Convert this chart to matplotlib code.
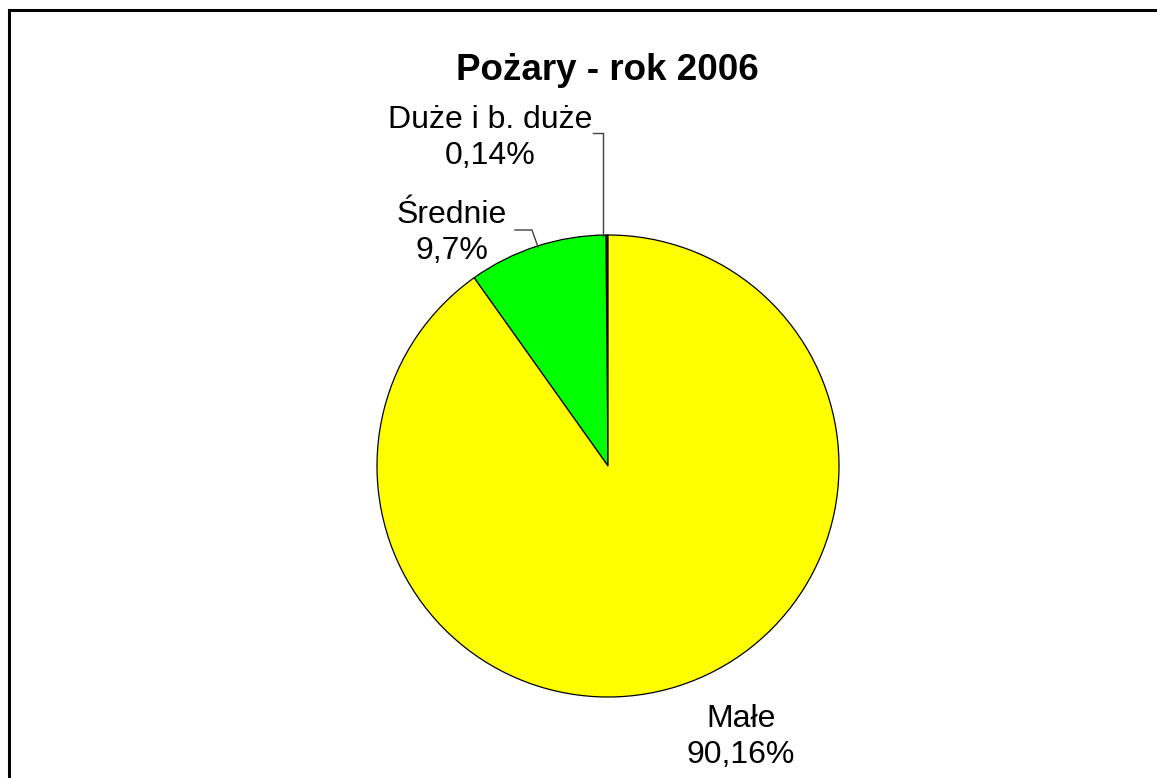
import matplotlib
matplotlib.use("Agg")
import matplotlib.pyplot as plt
from matplotlib.lines import Line2D

plt.rcParams['font.family'] = ['Liberation Sans', 'DejaVu Sans']

title = "Pożary - rok 2006"
categories = ["Duże i b. duże", "Średnie", "Małe"]
values = [0.14, 9.7, 90.16]
value_labels = ["0,14%", "9,7%", "90,16%"]
colors = ["#FF0000", "#00FF00", "#FFFF00"]

W, H = 1157, 778
fig = plt.figure(figsize=(W / 100, H / 100), dpi=100)

cx, cy, r = 608, 466, 231
ax = fig.add_axes([(cx - r) / W, (H - cy - r) / H, 2 * r / W, 2 * r / H])
ax.pie(values, colors=colors, startangle=90, counterclock=True, radius=1,
       wedgeprops=dict(edgecolor="black", linewidth=0.9))
ax.set_xlim(-1, 1)
ax.set_ylim(-1, 1)
ax.set_aspect("equal")
ax.axis("off")

def d(px, py):
    return ((px - cx) / r, (cy - py) / r)

fs = 23
label_pos = [d(490, 138), d(452, 233), d(741, 737)]
for name, vl, (x, y) in zip(categories, value_labels, label_pos):
    ax.text(x, y, f"{name}\n{vl}", ha="center", va="center", fontsize=fs,
            linespacing=1.3, clip_on=False)

leaders = [[d(593, 133), d(603, 133), d(603, 236)],
           [d(515, 230), d(532, 230), d(538, 247)]]
for pts in leaders:
    xs, ys = zip(*pts)
    ax.add_line(Line2D(xs, ys, color="#404040", linewidth=1.0, clip_on=False))

fig.text(607 / W, 1 - 70 / H, title, ha="center", va="center",
         fontsize=26.5, fontweight="bold")

# outer frame (top and left visible)
fig.add_artist(Line2D([9 / W, 1.0], [1 - 10 / H, 1 - 10 / H], color="black",
                      linewidth=2.2, transform=fig.transFigure))
fig.add_artist(Line2D([9 / W, 9 / W], [0, 1 - 10 / H], color="black",
                      linewidth=2.2, transform=fig.transFigure))

fig.savefig("out.png", dpi=100, facecolor="white")
